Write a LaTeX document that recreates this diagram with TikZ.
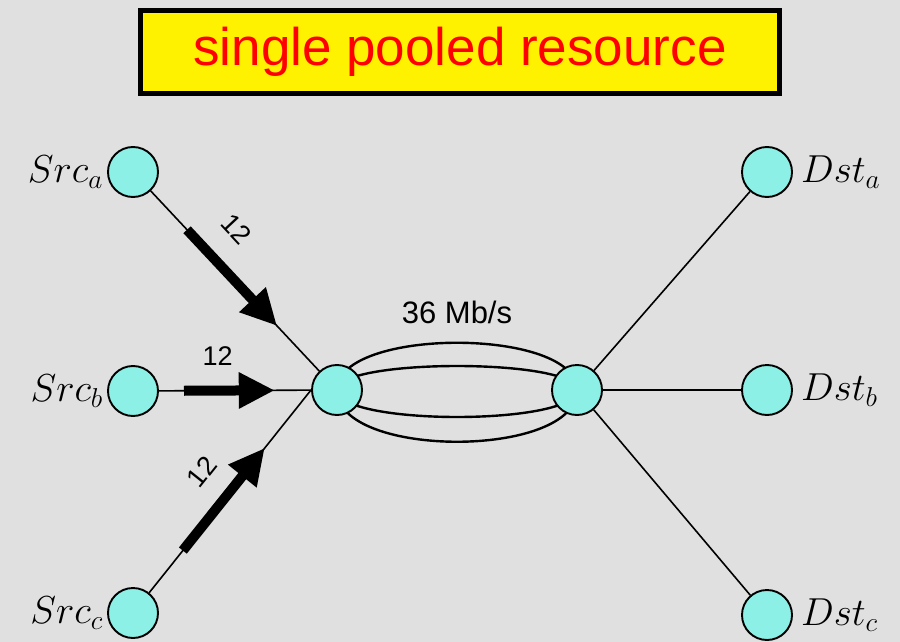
\RequirePackage{fix-cm}
\documentclass[tikz,border=0pt]{standalone}
\usepackage{fontspec}
\setsansfont{Liberation Sans}
\usepackage{tikz}
\usetikzlibrary{arrows.meta, positioning, calc}
\definecolor{marble}{RGB}{224,224,224}
\definecolor{hostcyan}{RGB}{140,240,230}
\pgfdeclarelayer{back}
\pgfdeclarelayer{links}
\pgfsetlayers{back,links,main}

\begin{document}
\begin{tikzpicture}[
    x=1pt, y=-1pt,
    host/.style={circle, draw, line width=1.9pt, fill=hostcyan, minimum size=50pt, inner sep=0pt},
    hostname/.style={inner sep=0pt, font=\fontsize{39}{42}\selectfont},
    banner/.style={rectangle, draw, line width=5pt, fill=yellow, text=red, minimum width=639pt, minimum height=83pt, font=\sffamily\fontsize{53}{60}\selectfont},
    rate/.style={inner sep=1pt, font=\sffamily\fontsize{27}{30}\selectfont},
    link/.style={line width=1.6pt},
    pool/.style={line width=2.4pt},
    flow/.style={-{Triangle[length=36pt,width=34pt]}, line width=10pt}
]
    \useasboundingbox (0,0) rectangle (900,642);
    \begin{pgfonlayer}{back}
        \fill[marble] (0,0) rectangle (900,642);
    \end{pgfonlayer}

    \node[banner] (title) at (460,52) {single pooled resource};

    % sources, sinks and the two routers
    \node[host] (srcA) at (133,172) {};
    \node[host] (srcB) at (133,391) {};
    \node[host] (srcC) at (133,613) {};
    \node[host] (hubL) at (337,390) {};
    \node[host] (hubR) at (577,390) {};
    \node[host] (dstA) at (767,172) {};
    \node[host] (dstB) at (767,390) {};
    \node[host] (dstC) at (767,615) {};

    \node[hostname, left=4pt of srcA] (lsrcA) {$Src_a$};
    \node[hostname, left=4pt of srcB] (lsrcB) {$Src_b$};
    \node[hostname, left=4pt of srcC] (lsrcC) {$Src_c$};
    \node[hostname, right=8pt of dstA] (ldstA) {$Dst_a$};
    \node[hostname, right=8pt of dstB] (ldstB) {$Dst_b$};
    \node[hostname, right=8pt of dstC] (ldstC) {$Dst_c$};

    \draw[link] (srcA) -- (hubL);
    \draw[link] (srcB) -- (hubL);
    \draw[link] (srcC) -- (hubL.west);
    \draw[link] (hubR) -- (dstA);
    \draw[link] (hubR) -- (dstB);
    \draw[link] (hubR) -- (dstC);

    % the pooled link
    \begin{pgfonlayer}{links}
        \draw[pool] (hubL.center) .. controls +(0,-63) and +(0,-63) .. (hubR.center)
                                  .. controls +(0,69) and +(0,69) .. (hubL.center);
        \draw[pool] (hubL.center) .. controls +(0,-32) and +(0,-32) .. (hubR.center)
                                  .. controls +(0,36) and +(0,36) .. (hubL.center);
    \end{pgfonlayer}
    \node[rate, font=\sffamily\fontsize{31}{34}\selectfont] (cap) at ($(hubL)!0.5!(hubR)+(0,-78)$) {36 Mb/s};

    % flows
    \coordinate (fa1) at ($(srcA)!0.265!(hubL)$);
    \coordinate (fa2) at ($(srcA)!0.706!(hubL)$);
    \coordinate (fb1) at ($(srcB)!0.25!(hubL)$);
    \coordinate (fb2) at ($(srcB)!0.695!(hubL)$);
    \coordinate (fc1) at ($(srcC)!0.28!(hubL.west)$);
    \coordinate (fc2) at ($(srcC)!0.74!(hubL.west)$);

    \draw[flow] (fa1) -- (fa2) node[rate, pos=0.25, sloped, above=21pt] {12};
    \draw[flow] (fb1) -- (fb2) node[rate, pos=0.37, above=19pt] {12};
    \draw[flow] (fc1) -- (fc2) node[rate, pos=0.56, sloped, above=19pt] {12};
\end{tikzpicture}
\end{document}
